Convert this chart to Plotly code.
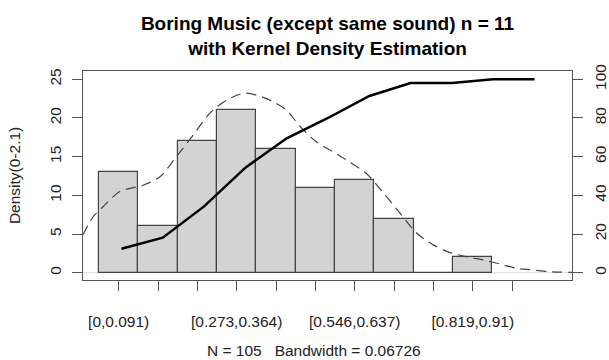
import plotly.graph_objects as go

# ---- data ----
bin_centers = [0.0455, 0.1365, 0.2275, 0.3185, 0.4095, 0.5005, 0.5915, 0.6825, 0.7735, 0.8645]
counts = [13, 6, 17, 21, 16, 11, 12, 7, 0, 2]
tick_positions = [0.0455, 0.1365, 0.2275, 0.3185, 0.4095, 0.5005, 0.5915, 0.6825, 0.7735, 0.8645, 0.9555]
tick_labels = ["[0,0.091)", "", "", "[0.273,0.364)", "", "", "[0.546,0.637)", "", "", "[0.819,0.91)", ""]

cum_index = [1, 2, 3, 4, 5, 6, 7, 8, 9, 10, 11]
cum_percent = [12.4, 18.1, 34.3, 54.3, 69.5, 80.0, 91.4, 98.1, 98.1, 100.0, 100.0]

dens_x = [-0.037, -0.014, 0.009, 0.048, 0.102, 0.141, 0.179, 0.218, 0.256, 0.295, 0.337,
          0.388, 0.434, 0.465, 0.503, 0.542, 0.580, 0.619, 0.658, 0.696, 0.735, 0.773,
          0.812, 0.851, 0.889, 0.928, 0.966, 1.005, 1.044, 1.094]
dens_y = [4.9, 7.2, 8.5, 10.5, 11.3, 12.4, 15.0, 17.8, 20.6, 22.3, 23.2,
          22.5, 21.0, 18.9, 16.9, 15.6, 14.3, 12.8, 10.3, 7.7, 5.1, 3.6,
          2.6, 2.07, 1.64, 1.12, 0.57, 0.35, 0.13, 0.05]

left_ticks = [0, 5, 10, 15, 20, 25]
right_ticks = [0, 20, 40, 60, 80, 100]

title_text = "<b>Boring Music (except same sound) n = 11<br>with Kernel Density Estimation</b>"
xlab = "N = 105   Bandwidth = 0.06726"
ylab = "Density(0-2.1)"

FONT = "Liberation Sans, Arial, sans-serif"
AX = "#555555"
TXT = "#222222"
FS = 15.5

fig = go.Figure()
fig.add_trace(go.Bar(
    x=bin_centers, y=counts, width=0.091,
    marker=dict(color="#d3d3d3", line=dict(color="#444444", width=1.2)),
    showlegend=False, hoverinfo="skip"))
fig.add_trace(go.Scatter(
    x=dens_x, y=dens_y, mode="lines",
    line=dict(color="#444444", width=1.2, dash="10px,6px", shape="spline", smoothing=0.8),
    showlegend=False, hoverinfo="skip", cliponaxis=True))
fig.add_trace(go.Scatter(
    x=cum_index, y=cum_percent, mode="lines", xaxis="x2", yaxis="y2",
    line=dict(color="black", width=2.5),
    showlegend=False, hoverinfo="skip"))

# baseline light line
fig.add_shape(type="line", xref="paper", yref="y", x0=0, x1=1, y0=0, y1=0,
              line=dict(color="#dddddd", width=1), layer="below")

fig.update_layout(
    width=609, height=360,
    margin=dict(l=83, r=37, t=71, b=80, autoexpand=False),
    paper_bgcolor="white", plot_bgcolor="white",
    font=dict(family=FONT, size=FS, color=TXT),
    bargap=0,
    title=dict(text=title_text, x=(83.3 + 571.7) / 2 / 609, xanchor="center",
               y=1 - 30 / 360, yanchor="middle",
               font=dict(family=FONT, size=19, color="black")),
    xaxis=dict(range=[-0.037, 1.094], tickvals=tick_positions, ticktext=tick_labels,
               ticks="outside", ticklen=10, tickcolor=AX, tickwidth=1, ticklabelstandoff=17,
               showline=True, linecolor=AX, linewidth=1, mirror=True, automargin=False,
               showgrid=False, zeroline=False, tickfont=dict(size=FS, color=TXT)),
    xaxis2=dict(range=[0.069, 11.906], overlaying="x", visible=False),
    yaxis=dict(range=[-0.94, 26.07], tickvals=left_ticks, tickangle=-90,
               ticks="outside", ticklen=10, tickcolor=AX, tickwidth=1, ticklabelstandoff=5,
               showline=True, linecolor=AX, linewidth=1, mirror=True, automargin=False,
               showgrid=False, zeroline=False, tickfont=dict(size=FS, color=TXT)),
    yaxis2=dict(range=[-3.77, 104.3], tickvals=right_ticks, tickangle=-90,
                overlaying="y", side="right", automargin=False,
                ticks="outside", ticklen=10, tickcolor=AX, tickwidth=1, ticklabelstandoff=4,
                showline=False, showgrid=False, zeroline=False,
                tickfont=dict(size=FS, color=TXT)),
    annotations=[
        dict(text=xlab, xref="paper", yref="paper", x=(314 - 83.3) / (571.7 - 83.3), y=-(350 - 280) / 209,
             showarrow=False, xanchor="center", yanchor="middle", font=dict(size=FS, color=TXT)),
        dict(text=ylab, xref="paper", yref="paper", x=-(83.3 - 15) / (571.7 - 83.3), y=0.5,
             showarrow=False, xanchor="center", yanchor="middle", textangle=-90,
             font=dict(size=FS, color=TXT)),
    ],
)

fig.write_html("out.html", config={"displayModeBar": False},
               post_script="document.body.style.margin='0';")
